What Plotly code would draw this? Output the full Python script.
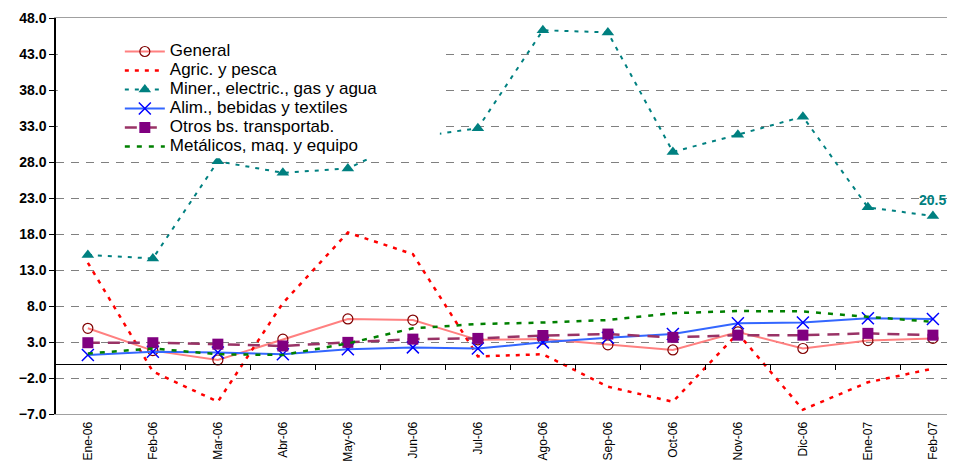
import plotly.graph_objects as go

# ---------------------------------------------------
# DATA
# ---------------------------------------------------

months = ['Ene-06', 'Feb-06', 'Mar-06', 'Abr-06', 'May-06', 'Jun-06', 'Jul-06',
          'Ago-06', 'Sep-06', 'Oct-06', 'Nov-06', 'Dic-06', 'Ene-07', 'Feb-07']

general = [4.9, 1.8, 0.5, 3.4, 6.2, 6.05, 3.3, 3.4, 2.6, 1.9, 4.4, 2.1, 3.2, 3.5]
agric = [14.0, -1.1, -5.3, 8.4, 18.2, 15.2, 1.0, 1.3, -3.2, -5.3, 4.2, -6.4, -2.6, -0.7]
miner = [15.1, 14.6, 28.1, 26.5, 27.1, 31.4, 32.7, 46.3, 46.0, 29.4, 31.8, 34.3, 21.7, 20.5]
alim = [1.2, 1.65, 1.55, 1.3, 2.0, 2.25, 2.1, 2.95, 3.6, 4.1, 5.6, 5.7, 6.3, 6.2]
otros = [2.9, 2.9, 2.7, 2.45, 2.95, 3.4, 3.5, 3.9, 4.1, 3.65, 3.95, 3.95, 4.2, 3.95]
metalicos = [1.4, 2.1, 1.3, 1.2, 2.8, 4.9, 5.5, 5.7, 6.05, 7.0, 7.3, 7.25, 6.5, 5.8]

y_ticks = [-7, -2, 3, 8, 13, 18, 23, 28, 33, 38, 43, 48]

FONT = 'Liberation Sans, Arial, sans-serif'
x_range = [-0.49, 13.34]


def legend_name(text):
    # larger legend text while keeping the compact item spacing
    return '<span style="font-size:17px">' + text + '</span>'


# ---------------------------------------------------
# TRACES
# ---------------------------------------------------

fig = go.Figure()

fig.add_trace(go.Scatter(
    x=months, y=general, name=legend_name('General'), mode='lines+markers',
    line=dict(color='#FF8080', width=2),
    marker=dict(symbol='circle-open', size=10, color='#800000',
                line=dict(color='#800000', width=1.2))
))

fig.add_trace(go.Scatter(
    x=months, y=agric, name=legend_name('Agric. y pesca'), mode='lines',
    line=dict(color='#FF0000', width=2.5, dash='4px,6px')
))

fig.add_trace(go.Scatter(
    x=months, y=miner, name=legend_name('Miner., electric., gas y agua'),
    mode='lines+markers',
    line=dict(color='#008080', width=2, dash='4px,6px'),
    marker=dict(symbol='triangle-up', size=11, color='#008080')
))

fig.add_trace(go.Scatter(
    x=months, y=alim, name=legend_name('Alim., bebidas y textiles'),
    mode='lines+markers',
    line=dict(color='#3366FF', width=2),
    marker=dict(symbol='x-thin-open', size=12, color='#0000FF',
                line=dict(color='#0000FF', width=1.5))
))

fig.add_trace(go.Scatter(
    x=months, y=otros, name=legend_name('Otros bs. transportab.'),
    mode='lines+markers',
    line=dict(color='#993366', width=2.5, dash='12px,8px'),
    marker=dict(symbol='square', size=11, color='#800080')
))

fig.add_trace(go.Scatter(
    x=months, y=metalicos, name=legend_name('Metálicos, maq. y equipo'),
    mode='lines',
    line=dict(color='#008000', width=2.5, dash='5px,7px')
))

# dummy trace carrying the zero-axis ticks
fig.add_trace(go.Scatter(
    x=[0], y=[0], xaxis='x2', mode='markers', showlegend=False,
    marker=dict(opacity=0), hoverinfo='skip'
))

# ---------------------------------------------------
# LAYOUT
# ---------------------------------------------------

zero_pos = (0 - y_ticks[0]) / (y_ticks[-1] - y_ticks[0])

fig.update_layout(
    width=947,
    height=456,
    margin=dict(l=48, r=0, t=10, b=50),
    plot_bgcolor='white',
    paper_bgcolor='white',
    font=dict(family=FONT, size=12, color='black'),
    showlegend=True,
    legend=dict(
        x=0.071, y=0.952, xanchor='left', yanchor='top',
        bgcolor='rgba(0,0,0,0)',
        font=dict(family=FONT, size=12, color='black'),
        tracegroupgap=0, itemwidth=40
    ),
    xaxis=dict(
        type='category', categoryorder='array', categoryarray=months,
        range=x_range, tickangle=-90, ticks='', showgrid=False,
        showline=True, linecolor='#A0A0A0', linewidth=1, mirror=True,
        ticklabelstandoff=2, automargin=False,
        tickfont=dict(family=FONT, size=12, color='black')
    ),
    xaxis2=dict(
        overlaying='x', anchor='free', position=zero_pos,
        range=x_range, tickvals=[i + 0.5 for i in range(14)],
        showticklabels=False, ticks='outside', ticklen=5, tickcolor='black',
        showline=True, linecolor='black', linewidth=1.2, showgrid=False,
        zeroline=False
    ),
    yaxis=dict(
        range=[y_ticks[0], y_ticks[-1]], tickvals=y_ticks, tickformat='.1f',
        showgrid=True, gridcolor='#808080', griddash='8px,7px', gridwidth=1,
        zeroline=False, showline=True, linecolor='black', linewidth=1.5,
        ticks='outside', ticklen=5, tickcolor='black', automargin=False,
        tickfont=dict(family=FONT, size=14, color='black', weight='bold')
    ),
    shapes=[
        # white legend box covering part of the plot
        dict(type='rect', xref='paper', yref='paper',
             x0=0.002, x1=0.427, y0=0.646, y1=0.982,
             fillcolor='white', line=dict(width=0), layer='above')
    ],
    annotations=[
        dict(x='Feb-07', y=miner[-1], text='<b>20.5</b>', showarrow=False,
             xshift=0, yshift=16,
             font=dict(family=FONT, size=14, color='#008080'))
    ]
)

fig.write_html('out.html')
